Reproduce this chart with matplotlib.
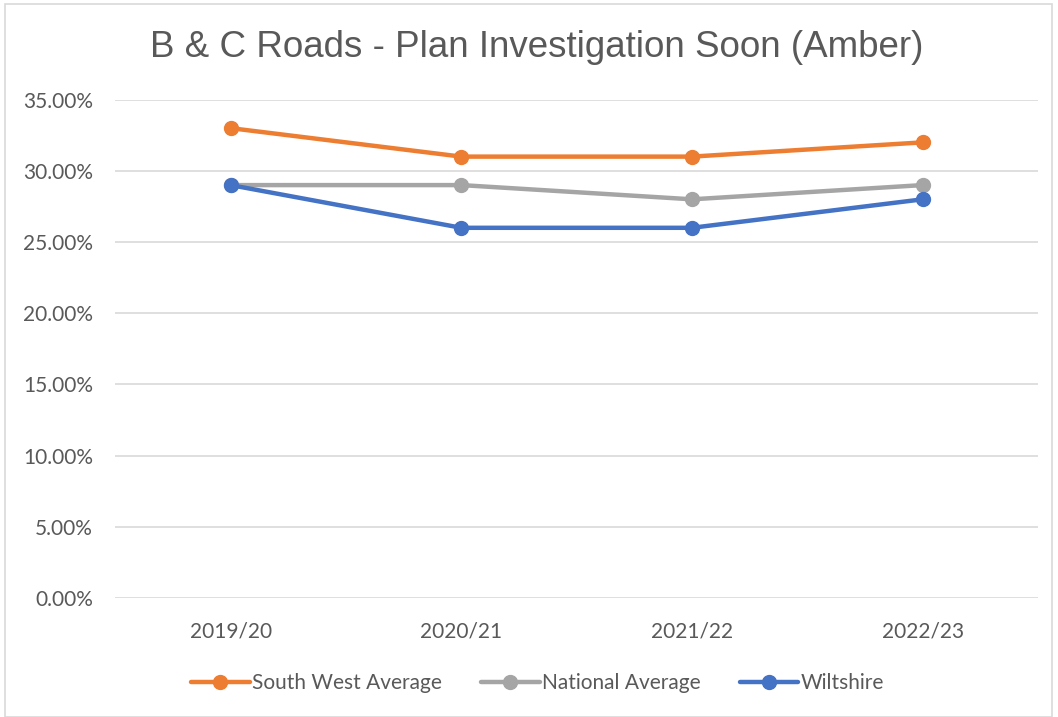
import matplotlib.pyplot as plt
from matplotlib.patches import Rectangle
from matplotlib.ticker import FuncFormatter

years = ['2019/20', '2020/21', '2021/22', '2022/23']
south_west = [33, 31, 31, 32]
national = [29, 29, 28, 29]
wiltshire = [29, 26, 26, 28]

series = [
    ('South West Average', south_west, '#ED7D31'),
    ('National Average', national, '#A5A5A5'),
    ('Wiltshire', wiltshire, '#4472C4'),
]

fig = plt.figure(figsize=(10.58, 7.17), dpi=100)
ax = fig.add_axes([0.109, 0.166, 0.872, 0.695])

fig.patches.append(Rectangle((5 / 1058, 0.0), 1047 / 1058, 713 / 717, transform=fig.transFigure,
                             fill=False, edgecolor='#D9D9D9', linewidth=1.2))

x = range(len(years))
for name, vals, col in series:
    ax.plot(x, vals, color=col, linewidth=3.2, marker='o', markersize=10, label=name,
            solid_capstyle='round', zorder=3)

ax.set_xlim(-0.5, 3.5)
ax.set_ylim(0, 35)
ax.set_yticks(range(0, 36, 5))
ax.yaxis.set_major_formatter(FuncFormatter(lambda v, p: f'{v:.2f}%'))
ax.set_xticks(list(x))
ax.set_xticklabels(years)
ax.grid(axis='y', color='#D9D9D9', linewidth=1.2)
ax.set_axisbelow(True)
for s in ax.spines.values():
    s.set_visible(False)
ax.tick_params(length=0, labelsize=15, labelcolor='#595959')
ax.tick_params(axis='y', pad=16)
ax.tick_params(axis='x', pad=17)
for lab in ax.get_xticklabels() + ax.get_yticklabels():
    lab.set_fontfamily('Lato')

fig.text(0.507, 0.934, 'B & C Roads - Plan Investigation Soon (Amber)', ha='center', va='center',
         fontsize=26.5, color='#595959', family='Liberation Sans')

leg = fig.legend(loc='center', bbox_to_anchor=(0.508, 0.047), ncol=3, frameon=False,
                 prop={'family': 'Lato', 'size': 15}, labelcolor='#595959',
                 handlelength=2.8, handletextpad=0.1, columnspacing=1.9)

fig.savefig('out.png', dpi=100)
